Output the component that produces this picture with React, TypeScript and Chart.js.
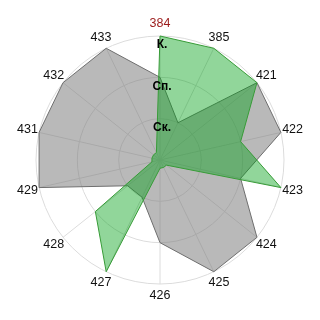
import React, { useEffect, useRef } from "react";
import { Chart, registerables } from "chart.js";

Chart.register(...registerables);

// Spokes of the radar, clockwise from the top
const categories = ["384", "385", "421", "422", "423", "424", "425", "426", "427", "428", "429", "431", "432", "433"];

// Level reached on each spoke (0..3)
const greenValues = [3, 3, 3, 2, 3, 0.2, 0.2, 0.2, 3, 2, 0.2, 0.2, 0.2, 0.2];
const grayValues = [2, 1, 3, 3, 2, 3, 3, 2, 1, 1, 3, 3, 3, 3];

// Level values on the radial axis and their names
const levelValues = [1, 2, 3];
const levelNames = ["Ск.", "Сп.", "К."];

const FONT = "'Liberation Sans', Arial, sans-serif";

// Spoke captions centred just beyond the outer ring, level names under each ring
const radarText = {
  id: "radarText",
  afterDraw(chart: any) {
    const scale = chart.scales.r;
    const ctx = chart.ctx;
    ctx.save();
    ctx.textAlign = "center";
    ctx.textBaseline = "middle";

    ctx.font = `12.5px ${FONT}`;
    const dist = scale.getDistanceFromCenterForValue(scale.max) + 12;
    categories.forEach((name, i) => {
      const p = scale.getPointPosition(i, dist);
      ctx.fillStyle = i === 0 ? "#9b1b1b" : "#111";
      ctx.fillText(name, p.x, p.y);
    });

    ctx.font = `bold 12px ${FONT}`;
    ctx.fillStyle = "#000";
    levelValues.forEach((v, i) => {
      const p = scale.getPointPosition(0, scale.getDistanceFromCenterForValue(v));
      ctx.fillText(levelNames[i], p.x + 2, p.y + 9);
    });
    ctx.restore();
  },
};

export default function App() {
  const canvasRef = useRef<HTMLCanvasElement | null>(null);

  useEffect(() => {
    const canvas = canvasRef.current;
    if (!canvas) return;
    const chart = new Chart(canvas, {
      type: "radar",
      data: {
        labels: categories,
        datasets: [
          {
            label: "Серия 1",
            data: greenValues,
            backgroundColor: "rgba(0, 160, 20, 0.43)",
            borderColor: "rgb(55, 155, 55)",
            borderWidth: 1,
            pointRadius: 0,
            fill: true,
          },
          {
            label: "Серия 2",
            data: grayValues,
            backgroundColor: "rgba(128, 128, 128, 0.55)",
            borderColor: "rgb(110, 110, 110)",
            borderWidth: 1,
            pointRadius: 0,
            fill: true,
          },
        ],
      },
      options: {
        responsive: false,
        animation: false,
        layout: { padding: 36 },
        plugins: {
          legend: { display: false },
          tooltip: { enabled: false },
        },
        elements: { line: { tension: 0 } },
        scales: {
          r: {
            min: 0,
            max: 3,
            grid: { circular: true, color: "#dcdcdc", lineWidth: 1 },
            angleLines: { color: "#dcdcdc", lineWidth: 1 },
            ticks: { stepSize: 1, display: false },
            pointLabels: { display: false },
          },
        },
      },
      plugins: [radarText],
    });
    return () => chart.destroy();
  }, []);

  return (
    <div style={{ position: "fixed", left: 0, top: 0, width: 320, height: 320, background: "#fff" }}>
      <canvas ref={canvasRef} width={320} height={320} />
    </div>
  );
}
